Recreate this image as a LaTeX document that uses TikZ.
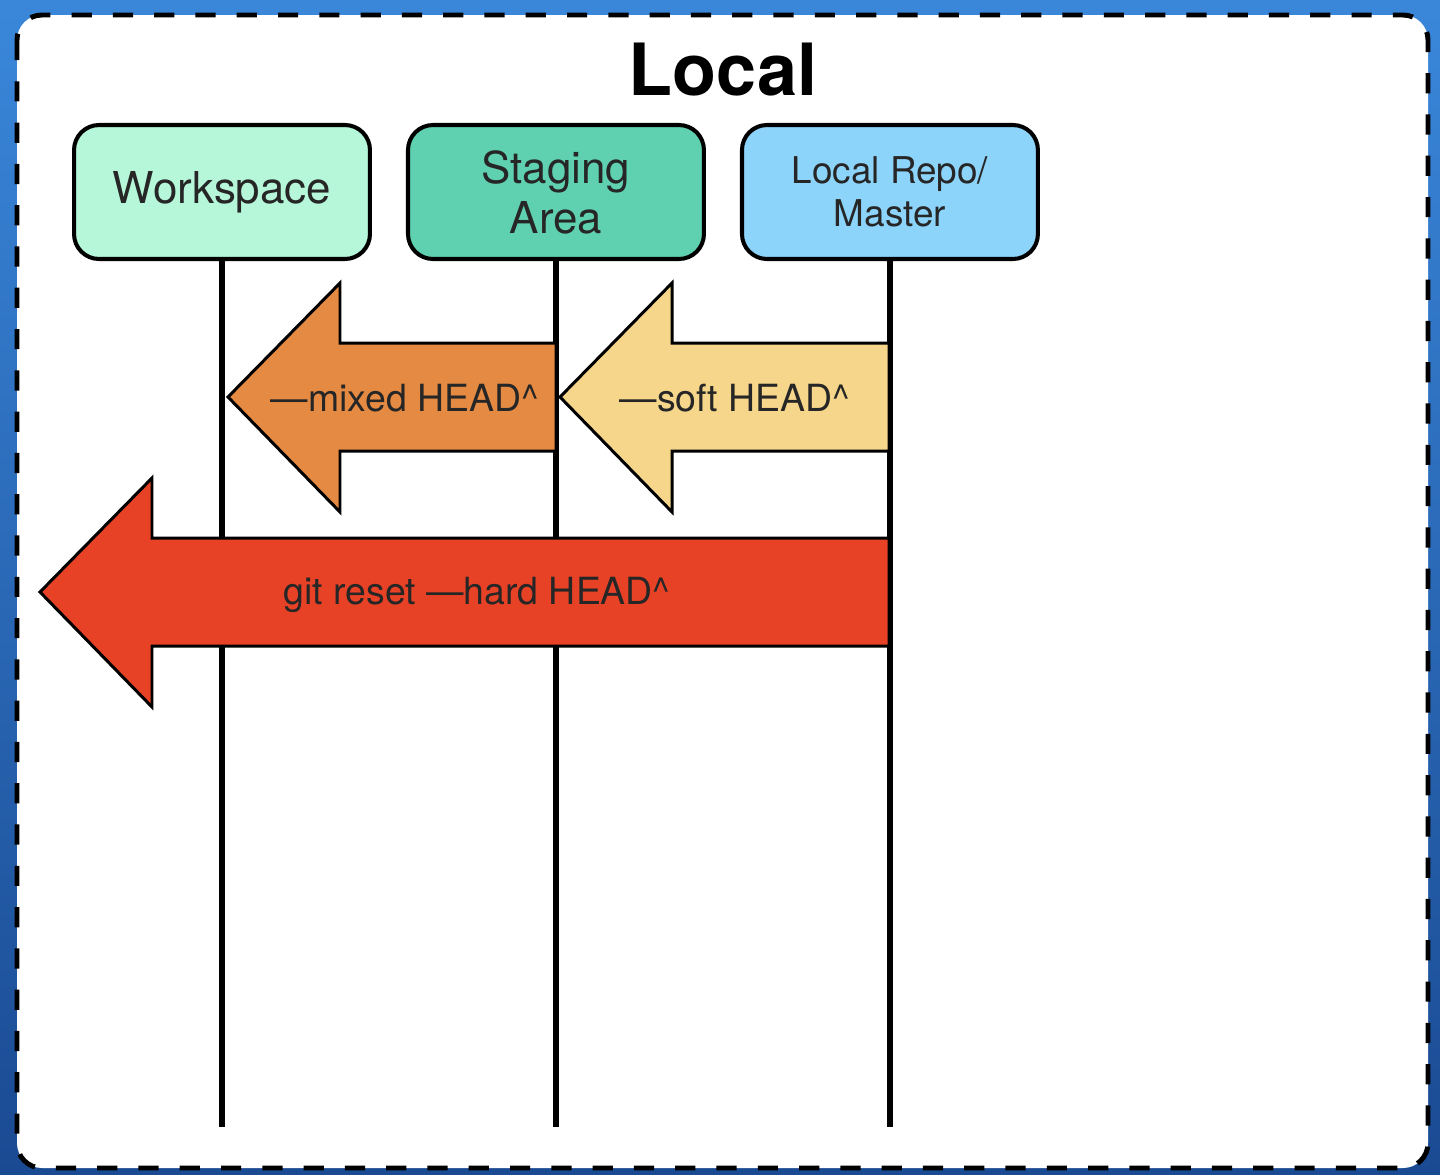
\documentclass[tikz,border=0pt]{standalone}
\usepackage{fontspec}
\setmainfont{TeX Gyre Heros}
\usetikzlibrary{positioning}

\definecolor{bgtop}{HTML}{3A87DA}
\definecolor{bgbot}{HTML}{1A4A92}
\definecolor{wscol}{HTML}{B5F7D8}
\definecolor{stcol}{HTML}{5FD0B0}
\definecolor{repocol}{HTML}{8DD4FA}
\definecolor{mixedcol}{HTML}{E58A42}
\definecolor{softcol}{HTML}{F6D68A}
\definecolor{hardcol}{HTML}{E84226}

% fat arrow: tip x, tail x, middle y, colour
\newcommand{\fatarrow}[4]{%
  \draw[fat, fill=#4] (#1,#3) -- ({#1+112},{#3-114}) -- ({#1+112},{#3-54})
    -- (#2,{#3-54}) -- (#2,{#3+54}) -- ({#1+112},{#3+54})
    -- ({#1+112},{#3+115}) -- cycle;}

\begin{document}
\begin{tikzpicture}[x=0.02cm,y=-0.02cm,
  box/.style={draw=black, line width=2.3pt, rounded corners=0.5cm, minimum width=5.92cm,
    minimum height=2.68cm, align=center, inner sep=0pt, text=black!85},
  lane/.style={line width=3.2pt},
  fat/.style={draw=black, line width=1.7pt, line join=miter},
  lbl/.style={font=\fontsize{21.3}{24}\selectfont, text=black!85}]

%%%%%%%%%%%  Frame %%%%%%%%%%%%%%%%%%%%%
\shade[top color=bgtop, bottom color=bgbot] (0,0) rectangle (1440,1174);
\useasboundingbox (0,0) rectangle (1440,1174);
\draw[fill=white, line width=2.8pt, dash pattern=on 11.5pt off 12pt, rounded corners=0.5cm]
  (17,15) rectangle (1428,1168);

% Title
\node[font=\fontsize{41}{45}\selectfont\bfseries] (title) at (723,70) {Local};

% The three areas
\node[box, fill=wscol, font=\fontsize{25}{28.5}\selectfont] (ws) at (222,192) {Workspace};
\node[box, fill=stcol, font=\fontsize{25}{28.5}\selectfont, right=0.68cm of ws] (st) {Staging\\Area};
\node[box, fill=repocol, font=\fontsize{21}{24.5}\selectfont, right=0.68cm of st] (repo) {Local Repo/\\Master};

% Lanes
\coordinate (bot) at (0,1127);
\draw[lane] (ws.south) -- (ws.south |- bot);
\draw[lane] (st.south) -- (st.south |- bot);
\draw[lane] (repo.south) -- (repo.south |- bot);

% Reset arrows
\fatarrow{228}{556}{397}{mixedcol}
\fatarrow{560}{889}{397}{softcol}
\fatarrow{40}{889}{592}{hardcol}

% Arrow labels
\node[lbl] (mixed) at (405,398) {—mixed HEAD\textasciicircum};
\node[lbl] (soft) at (735,398) {—soft HEAD\textasciicircum};
\node[lbl] (hard) at (477,595) {git reset —hard HEAD\textasciicircum};

\end{tikzpicture}
\end{document}
